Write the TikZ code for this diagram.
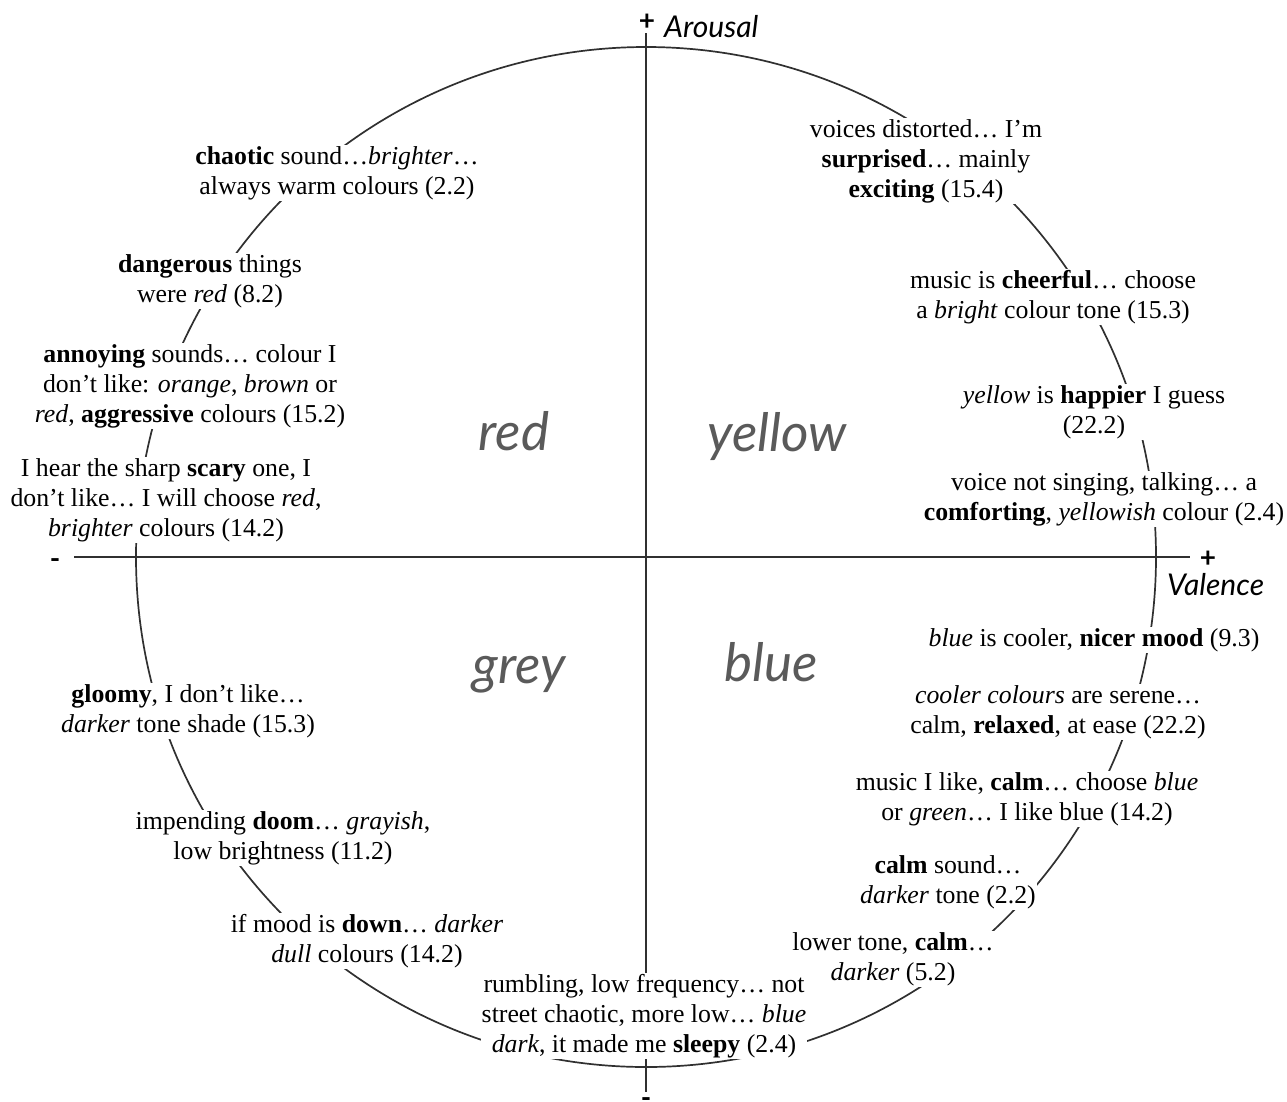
\documentclass[tikz,border=0pt]{standalone}
\usepackage{fontspec}
\setmainfont{Liberation Serif}
\newfontfamily\quadfont{Lato}
\usepackage{xcolor}
\definecolor{quadgrey}{HTML}{5A5A5A}
\definecolor{inkgrey}{HTML}{303030}

\begin{document}
\begin{tikzpicture}[x=1pt,y=-1pt]
            \tikzset{
            emo node/.style={fill=white,align=center,inner sep=1pt,font=\fontsize{25.8}{30}\selectfont},
            emo colour/.style={anchor=base,text=quadgrey,font=\quadfont\itshape\fontsize{53}{60}\selectfont},
            emo axis/.style={anchor=base west,inner sep=0pt,font=\quadfont\itshape\fontsize{30}{36}\selectfont},
            emo sign/.style={inner sep=0pt,font=\quadfont\bfseries\fontsize{28}{30}\selectfont},
            emo line/.style={draw=inkgrey,line width=1.7pt}
            }
            \useasboundingbox (0,0) rectangle (1287,1101);
            % axes and the ring
            \coordinate (o) at (646,557);
            \coordinate (n) at (646,33);
            \coordinate (s) at (646,1092);
            \coordinate (w) at (74,557);
            \coordinate (e) at (1190,557);
            \draw[emo line] (o) circle[radius=510];
            \draw[emo line] (n) -- (s);
            \draw[emo line] (w) -- (e);
            \node[emo sign,anchor=south] (np) at (647,31) {+};
            \node[emo sign] (ep) at (1208,559) {+};
            \node[emo sign] (wm) at (55,564) {-};
            \node[emo sign,anchor=north] (sm) at (646,1097) {-};
            \node[emo axis] (ar) at (664,37) {Arousal};
            \node[emo axis] (va) at (1167,595) {Valence};
            % colour names
            \node[emo colour] (red) at (514,450) {red};
            \node[emo colour] (yel) at (777,451) {yellow};
            \node[emo colour] (gry) at (519,683) {grey};
            \node[emo colour] (blu) at (771,681) {blue};
            % quotes round the ring
            \node[emo node] (1) at (337,173) {\textbf{chaotic} sound…\textit{brighter}…\\always warm colours (2.2)};
            \node[emo node] (2) at (210,281) {\textbf{dangerous} things\\were \textit{red} (8.2)};
            \node[emo node] (3) at (190,386) {\textbf{annoying} sounds… colour I\\don’t like: \textit{orange}, \textit{brown} or\\\textit{red}, \textbf{aggressive} colours (15.2)};
            \node[emo node] (4) at (166,500) {I hear the sharp \textbf{scary} one, I\\don’t like… I will choose \textit{red},\\\textit{brighter} colours (14.2)};
            \node[emo node] (5) at (188,711) {\textbf{gloomy}, I don’t like…\\\textit{darker} tone shade (15.3)};
            \node[emo node] (6) at (283,838) {impending \textbf{doom}… \textit{grayish},\\low brightness (11.2)};
            \node[emo node] (7) at (367,941) {if mood is \textbf{down}… \textit{darker}\\\textit{dull} colours (14.2)};
            \node[emo node] (9) at (893,959) {lower tone, \textbf{calm}…\\\textit{darker} (5.2)};
            \node[emo node] (8) at (644,1016) {rumbling, low frequency… not\\street chaotic, more low… \textit{blue}\\\textit{dark}, it made me \textbf{sleepy} (2.4)};
            \node[emo node] (10) at (948,882) {\textbf{calm} sound…\\\textit{darker} tone (2.2)};
            \node[emo node] (11) at (1027,799) {music I like, \textbf{calm}… choose \textit{blue}\\or \textit{green}… I like blue (14.2)};
            \node[emo node] (12) at (1058,712) {\textit{cooler colours} are serene…\\calm, \textbf{relaxed}, at ease (22.2)};
            \node[emo node] (13) at (1094,640) {\textit{blue} is cooler, \textbf{nicer mood} (9.3)};
            \node[emo node] (14) at (1104,499) {voice not singing, talking… a\\\textbf{comforting}, \textit{yellowish} colour (2.4)};
            \node[emo node] (15) at (1094,412) {\textit{yellow} is \textbf{happier} I guess\\(22.2)};
            \node[emo node] (16) at (1053,297) {music is \textbf{cheerful}… choose\\a \textit{bright} colour tone (15.3)};
            \node[emo node] (17) at (926,161) {voices distorted… I’m\\\textbf{surprised}… mainly\\\textbf{exciting} (15.4)};
        \end{tikzpicture}
\end{document}
